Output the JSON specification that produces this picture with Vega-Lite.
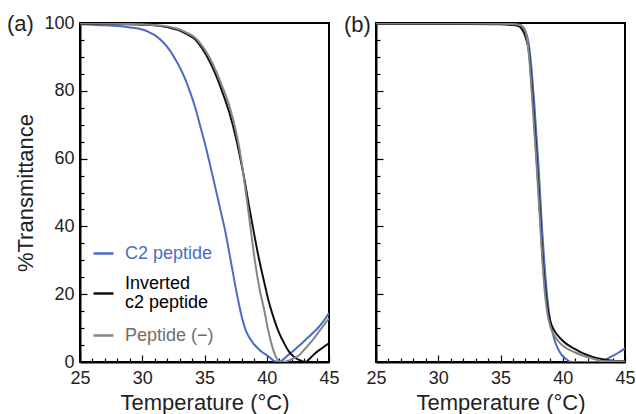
{
  "$schema": "https://vega.github.io/schema/vega-lite/v6.json",
  "padding": {"left": 6, "top": 12, "right": 4, "bottom": 2},
  "bounds": "flush",
  "spacing": 47,
  "data": {"values": [
    {"p":"a","s":"C2 peptide","t":25,"v":99.6},{"p":"a","s":"C2 peptide","t":26,"v":99.5},{"p":"a","s":"C2 peptide","t":27,"v":99.3},{"p":"a","s":"C2 peptide","t":28,"v":99.1},{"p":"a","s":"C2 peptide","t":29,"v":98.7},{"p":"a","s":"C2 peptide","t":30,"v":98.1},{"p":"a","s":"C2 peptide","t":30.5,"v":97.4},{"p":"a","s":"C2 peptide","t":31,"v":96.4},{"p":"a","s":"C2 peptide","t":31.6,"v":94.6},{"p":"a","s":"C2 peptide","t":32.2,"v":92},{"p":"a","s":"C2 peptide","t":32.7,"v":89},{"p":"a","s":"C2 peptide","t":33.1,"v":86.3},{"p":"a","s":"C2 peptide","t":33.5,"v":83},{"p":"a","s":"C2 peptide","t":33.9,"v":79},{"p":"a","s":"C2 peptide","t":34.3,"v":74.5},{"p":"a","s":"C2 peptide","t":34.7,"v":69},{"p":"a","s":"C2 peptide","t":35.1,"v":63.5},{"p":"a","s":"C2 peptide","t":35.5,"v":57.3},{"p":"a","s":"C2 peptide","t":35.9,"v":51},{"p":"a","s":"C2 peptide","t":36.3,"v":44.5},{"p":"a","s":"C2 peptide","t":36.7,"v":38},{"p":"a","s":"C2 peptide","t":37.0,"v":32},{"p":"a","s":"C2 peptide","t":37.2,"v":28},{"p":"a","s":"C2 peptide","t":37.5,"v":22},{"p":"a","s":"C2 peptide","t":37.8,"v":16.5},{"p":"a","s":"C2 peptide","t":38.05,"v":12.5},{"p":"a","s":"C2 peptide","t":38.3,"v":9.5},{"p":"a","s":"C2 peptide","t":38.6,"v":7.2},{"p":"a","s":"C2 peptide","t":38.9,"v":5.6},{"p":"a","s":"C2 peptide","t":39.3,"v":4},{"p":"a","s":"C2 peptide","t":39.6,"v":3},{"p":"a","s":"C2 peptide","t":40,"v":2},{"p":"a","s":"C2 peptide","t":40.3,"v":1.2},{"p":"a","s":"C2 peptide","t":40.6,"v":0.3},{"p":"a","s":"C2 peptide","t":41,"v":0},{"p":"a","s":"C2 peptide","t":41.4,"v":1},{"p":"a","s":"C2 peptide","t":41.7,"v":2},{"p":"a","s":"C2 peptide","t":42.1,"v":3.2},{"p":"a","s":"C2 peptide","t":42.6,"v":4.8},{"p":"a","s":"C2 peptide","t":43.1,"v":6.5},{"p":"a","s":"C2 peptide","t":43.6,"v":8.2},{"p":"a","s":"C2 peptide","t":44.2,"v":10.4},{"p":"a","s":"C2 peptide","t":44.6,"v":12.3},{"p":"a","s":"C2 peptide","t":45,"v":14.4},
    {"p":"a","s":"Inverted c2 peptide","t":25,"v":99.8},{"p":"a","s":"Inverted c2 peptide","t":28,"v":99.7},{"p":"a","s":"Inverted c2 peptide","t":30,"v":99.5},{"p":"a","s":"Inverted c2 peptide","t":31,"v":99.3},{"p":"a","s":"Inverted c2 peptide","t":32,"v":98.8},{"p":"a","s":"Inverted c2 peptide","t":32.5,"v":98.3},{"p":"a","s":"Inverted c2 peptide","t":33,"v":97.8},{"p":"a","s":"Inverted c2 peptide","t":33.6,"v":96.7},{"p":"a","s":"Inverted c2 peptide","t":34.3,"v":95},{"p":"a","s":"Inverted c2 peptide","t":34.8,"v":92.6},{"p":"a","s":"Inverted c2 peptide","t":35.4,"v":88.8},{"p":"a","s":"Inverted c2 peptide","t":35.9,"v":84.8},{"p":"a","s":"Inverted c2 peptide","t":36.4,"v":80},{"p":"a","s":"Inverted c2 peptide","t":37,"v":73.5},{"p":"a","s":"Inverted c2 peptide","t":37.5,"v":66.5},{"p":"a","s":"Inverted c2 peptide","t":37.8,"v":61.5},{"p":"a","s":"Inverted c2 peptide","t":38.2,"v":54},{"p":"a","s":"Inverted c2 peptide","t":38.6,"v":45.5},{"p":"a","s":"Inverted c2 peptide","t":39,"v":37.5},{"p":"a","s":"Inverted c2 peptide","t":39.4,"v":30},{"p":"a","s":"Inverted c2 peptide","t":39.8,"v":23.5},{"p":"a","s":"Inverted c2 peptide","t":40.2,"v":17.3},{"p":"a","s":"Inverted c2 peptide","t":40.6,"v":12.5},{"p":"a","s":"Inverted c2 peptide","t":41,"v":8.5},{"p":"a","s":"Inverted c2 peptide","t":41.4,"v":5.5},{"p":"a","s":"Inverted c2 peptide","t":41.8,"v":3},{"p":"a","s":"Inverted c2 peptide","t":42.2,"v":1.5},{"p":"a","s":"Inverted c2 peptide","t":42.6,"v":0.6},{"p":"a","s":"Inverted c2 peptide","t":43.1,"v":0},{"p":"a","s":"Inverted c2 peptide","t":43.5,"v":1.2},{"p":"a","s":"Inverted c2 peptide","t":43.9,"v":2.6},{"p":"a","s":"Inverted c2 peptide","t":44.4,"v":4},{"p":"a","s":"Inverted c2 peptide","t":45,"v":5.5},
    {"p":"a","s":"Peptide (−)","t":25,"v":99.9},{"p":"a","s":"Peptide (−)","t":28,"v":99.8},{"p":"a","s":"Peptide (−)","t":30,"v":99.6},{"p":"a","s":"Peptide (−)","t":31,"v":99.4},{"p":"a","s":"Peptide (−)","t":32,"v":99},{"p":"a","s":"Peptide (−)","t":32.5,"v":98.6},{"p":"a","s":"Peptide (−)","t":33,"v":98.1},{"p":"a","s":"Peptide (−)","t":33.6,"v":97.1},{"p":"a","s":"Peptide (−)","t":34.3,"v":95.5},{"p":"a","s":"Peptide (−)","t":34.8,"v":93.3},{"p":"a","s":"Peptide (−)","t":35.4,"v":89.8},{"p":"a","s":"Peptide (−)","t":35.9,"v":86},{"p":"a","s":"Peptide (−)","t":36.4,"v":81.5},{"p":"a","s":"Peptide (−)","t":37,"v":75.5},{"p":"a","s":"Peptide (−)","t":37.5,"v":68.5},{"p":"a","s":"Peptide (−)","t":37.8,"v":63},{"p":"a","s":"Peptide (−)","t":38.1,"v":56},{"p":"a","s":"Peptide (−)","t":38.4,"v":48},{"p":"a","s":"Peptide (−)","t":38.75,"v":38},{"p":"a","s":"Peptide (−)","t":39.1,"v":28.5},{"p":"a","s":"Peptide (−)","t":39.45,"v":21},{"p":"a","s":"Peptide (−)","t":39.8,"v":15.3},{"p":"a","s":"Peptide (−)","t":40.05,"v":10.5},{"p":"a","s":"Peptide (−)","t":40.3,"v":6.5},{"p":"a","s":"Peptide (−)","t":40.5,"v":3.8},{"p":"a","s":"Peptide (−)","t":40.7,"v":1.8},{"p":"a","s":"Peptide (−)","t":40.9,"v":0.6},{"p":"a","s":"Peptide (−)","t":41.1,"v":0},{"p":"a","s":"Peptide (−)","t":41.5,"v":0.1},{"p":"a","s":"Peptide (−)","t":41.8,"v":0.5},{"p":"a","s":"Peptide (−)","t":42.2,"v":1.2},{"p":"a","s":"Peptide (−)","t":42.6,"v":2},{"p":"a","s":"Peptide (−)","t":43.1,"v":4},{"p":"a","s":"Peptide (−)","t":43.7,"v":6.5},{"p":"a","s":"Peptide (−)","t":44.3,"v":9.5},{"p":"a","s":"Peptide (−)","t":45,"v":12.9},
    {"p":"b","s":"C2 peptide","t":25,"v":99.8},{"p":"b","s":"C2 peptide","t":30,"v":99.8},{"p":"b","s":"C2 peptide","t":35,"v":99.7},{"p":"b","s":"C2 peptide","t":36.5,"v":99.5},{"p":"b","s":"C2 peptide","t":37,"v":97.5},{"p":"b","s":"C2 peptide","t":37.3,"v":93},{"p":"b","s":"C2 peptide","t":37.5,"v":86},{"p":"b","s":"C2 peptide","t":37.7,"v":77},{"p":"b","s":"C2 peptide","t":37.9,"v":66},{"p":"b","s":"C2 peptide","t":38.05,"v":58},{"p":"b","s":"C2 peptide","t":38.2,"v":48},{"p":"b","s":"C2 peptide","t":38.36,"v":38},{"p":"b","s":"C2 peptide","t":38.55,"v":28},{"p":"b","s":"C2 peptide","t":38.76,"v":19},{"p":"b","s":"C2 peptide","t":39,"v":12},{"p":"b","s":"C2 peptide","t":39.3,"v":7},{"p":"b","s":"C2 peptide","t":39.6,"v":4},{"p":"b","s":"C2 peptide","t":39.9,"v":2.2},{"p":"b","s":"C2 peptide","t":40.3,"v":0.8},{"p":"b","s":"C2 peptide","t":40.6,"v":0.1},{"p":"b","s":"C2 peptide","t":41,"v":0},{"p":"b","s":"C2 peptide","t":42,"v":0},{"p":"b","s":"C2 peptide","t":42.8,"v":0},{"p":"b","s":"C2 peptide","t":43.3,"v":0.5},{"p":"b","s":"C2 peptide","t":44,"v":1.8},{"p":"b","s":"C2 peptide","t":44.5,"v":2.8},{"p":"b","s":"C2 peptide","t":45,"v":4},
    {"p":"b","s":"Inverted c2 peptide","t":25,"v":99.8},{"p":"b","s":"Inverted c2 peptide","t":30,"v":99.8},{"p":"b","s":"Inverted c2 peptide","t":35,"v":99.6},{"p":"b","s":"Inverted c2 peptide","t":36,"v":99.4},{"p":"b","s":"Inverted c2 peptide","t":36.5,"v":99},{"p":"b","s":"Inverted c2 peptide","t":36.75,"v":98},{"p":"b","s":"Inverted c2 peptide","t":37,"v":96},{"p":"b","s":"Inverted c2 peptide","t":37.3,"v":91},{"p":"b","s":"Inverted c2 peptide","t":37.5,"v":82},{"p":"b","s":"Inverted c2 peptide","t":37.7,"v":71.5},{"p":"b","s":"Inverted c2 peptide","t":37.9,"v":60},{"p":"b","s":"Inverted c2 peptide","t":38.05,"v":51.5},{"p":"b","s":"Inverted c2 peptide","t":38.2,"v":42},{"p":"b","s":"Inverted c2 peptide","t":38.36,"v":32},{"p":"b","s":"Inverted c2 peptide","t":38.55,"v":23},{"p":"b","s":"Inverted c2 peptide","t":38.76,"v":16.3},{"p":"b","s":"Inverted c2 peptide","t":39,"v":12},{"p":"b","s":"Inverted c2 peptide","t":39.3,"v":9.4},{"p":"b","s":"Inverted c2 peptide","t":39.8,"v":7},{"p":"b","s":"Inverted c2 peptide","t":40.24,"v":5.5},{"p":"b","s":"Inverted c2 peptide","t":41,"v":3.8},{"p":"b","s":"Inverted c2 peptide","t":41.6,"v":2.6},{"p":"b","s":"Inverted c2 peptide","t":42.4,"v":1.5},{"p":"b","s":"Inverted c2 peptide","t":43.2,"v":0.8},{"p":"b","s":"Inverted c2 peptide","t":44,"v":0.4},{"p":"b","s":"Inverted c2 peptide","t":45,"v":0.2},
    {"p":"b","s":"Peptide (−)","t":25,"v":99.9},{"p":"b","s":"Peptide (−)","t":30,"v":99.9},{"p":"b","s":"Peptide (−)","t":35,"v":99.8},{"p":"b","s":"Peptide (−)","t":36.5,"v":99.5},{"p":"b","s":"Peptide (−)","t":36.9,"v":98.5},{"p":"b","s":"Peptide (−)","t":37.1,"v":96},{"p":"b","s":"Peptide (−)","t":37.3,"v":90},{"p":"b","s":"Peptide (−)","t":37.5,"v":80},{"p":"b","s":"Peptide (−)","t":37.7,"v":69},{"p":"b","s":"Peptide (−)","t":37.9,"v":58},{"p":"b","s":"Peptide (−)","t":38.05,"v":49},{"p":"b","s":"Peptide (−)","t":38.2,"v":40},{"p":"b","s":"Peptide (−)","t":38.36,"v":30},{"p":"b","s":"Peptide (−)","t":38.55,"v":21},{"p":"b","s":"Peptide (−)","t":38.76,"v":14.5},{"p":"b","s":"Peptide (−)","t":39,"v":10.5},{"p":"b","s":"Peptide (−)","t":39.3,"v":8},{"p":"b","s":"Peptide (−)","t":39.8,"v":5.5},{"p":"b","s":"Peptide (−)","t":40.24,"v":4.2},{"p":"b","s":"Peptide (−)","t":41,"v":2.8},{"p":"b","s":"Peptide (−)","t":41.6,"v":1.9},{"p":"b","s":"Peptide (−)","t":42.4,"v":1},{"p":"b","s":"Peptide (−)","t":43.2,"v":0.3},{"p":"b","s":"Peptide (−)","t":44,"v":0.2},{"p":"b","s":"Peptide (−)","t":45,"v":0.1}
  ]},
  "hconcat": [
    {
      "width": 249, "height": 339,
      "title": {"text": "(a)", "anchor": "start", "frame": "group", "orient": "top", "dx": -73, "dy": 39, "offset": 0, "baseline": "alphabetic", "fontSize": 22, "fontWeight": "normal", "font": "Liberation Sans", "color": "#222222"},
      "transform": [{"filter": "datum.p === 'a'"}],
      "mark": {"type": "line", "strokeWidth": 2, "clip": true, "interpolate": "monotone"},
      "encoding": {
        "x": {"field": "t", "type": "quantitative", "scale": {"domain": [25, 45], "nice": false, "zero": false},
          "axis": {"title": "Temperature (°C)", "values": [25,26,27,28,29,30,31,32,33,34,35,36,37,38,39,40,41,42,43,44,45],
            "labelExpr": "datum.value % 5 === 0 ? datum.label : ''",
            "tickSize": {"condition": {"test": "datum.value % 5 === 0", "value": -7}, "value": -4},
            "labelPadding": 14, "labelFlush": false, "labelOverlap": false, "titlePadding": 2}},
        "y": {"field": "v", "type": "quantitative", "scale": {"domain": [0, 100], "nice": false},
          "axis": {"title": "%Transmittance", "values": [0,5,10,15,20,25,30,35,40,45,50,55,60,65,70,75,80,85,90,95,100],
            "labelExpr": "datum.value % 20 === 0 ? datum.label : ''",
            "tickSize": {"condition": {"test": "datum.value % 20 === 0", "value": -7}, "value": -4},
            "labelPadding": 13, "labelFlush": false, "labelOverlap": false, "titlePadding": 6}},
        "color": {"field": "s", "type": "nominal",
          "scale": {"domain": ["C2 peptide", "Inverted c2 peptide", "Peptide (−)"], "range": ["#4a6cc4", "#111111", "#858585"]},
          "legend": {"orient": "none", "legendX": 12, "legendY": 219, "title": null, "padding": 0,
            "symbolType": "stroke", "symbolSize": 400, "symbolStrokeWidth": 2.5,
            "labelFontSize": 18, "labelFont": "Liberation Sans", "labelOffset": 10, "rowPadding": 12,
            "labelExpr": "datum.label === 'Inverted c2 peptide' ? ['Inverted', 'c2 peptide'] : datum.label",
            "encode": {"labels": {"update": {"fill": {"signal": "datum.value === 'C2 peptide' ? '#4a6cc4' : (datum.value === 'Peptide (−)' ? '#6e6e6e' : '#000000')"}, "lineHeight": {"value": 18.5}, "dy": {"signal": "datum.value === 'Inverted c2 peptide' ? -9.25 : 0"}}}}}}
      }
    },
    {
      "width": 249, "height": 339,
      "title": {"text": "(b)", "anchor": "start", "frame": "group", "orient": "top", "dx": -32, "dy": 32, "offset": 0, "baseline": "alphabetic", "fontSize": 22, "fontWeight": "normal", "font": "Liberation Sans", "color": "#222222"},
      "transform": [{"filter": "datum.p === 'b'"}],
      "mark": {"type": "line", "strokeWidth": 2, "clip": true, "interpolate": "monotone"},
      "encoding": {
        "x": {"field": "t", "type": "quantitative", "scale": {"domain": [25, 45], "nice": false, "zero": false},
          "axis": {"title": "Temperature (°C)", "values": [25,26,27,28,29,30,31,32,33,34,35,36,37,38,39,40,41,42,43,44,45],
            "labelExpr": "datum.value % 5 === 0 ? datum.label : ''",
            "tickSize": {"condition": {"test": "datum.value % 5 === 0", "value": -7}, "value": -4},
            "labelPadding": 14, "labelFlush": false, "labelOverlap": false, "titlePadding": 2}},
        "y": {"field": "v", "type": "quantitative", "scale": {"domain": [0, 100], "nice": false},
          "axis": {"title": null, "labels": false, "values": [0,5,10,15,20,25,30,35,40,45,50,55,60,65,70,75,80,85,90,95,100],
            "tickSize": {"condition": {"test": "datum.value % 20 === 0", "value": -7}, "value": -4}}},
        "color": {"field": "s", "type": "nominal",
          "scale": {"domain": ["C2 peptide", "Inverted c2 peptide", "Peptide (−)"], "range": ["#4a6cc4", "#111111", "#858585"]},
          "legend": null}
      }
    }
  ],
  "resolve": {"scale": {"color": "independent", "x": "independent", "y": "independent"}, "legend": {"color": "independent"}},
  "config": {
    "font": "Liberation Sans",
    "view": {"stroke": "#000000", "strokeWidth": 2},
    "axis": {"domainColor": "#000000", "domainWidth": 2, "tickColor": "#000000", "tickWidth": 1.2, "grid": false,
      "labelColor": "#222222", "labelFontSize": 18, "labelFont": "Liberation Sans",
      "titleColor": "#222222", "titleFontSize": 22, "titleFontWeight": "normal", "titleFont": "Liberation Sans"}
  }
}
